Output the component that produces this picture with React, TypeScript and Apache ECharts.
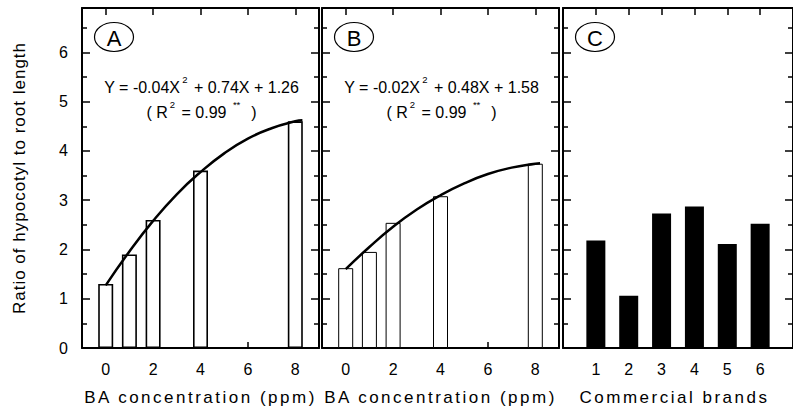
import React, { useEffect, useRef } from "react";
import * as echarts from "echarts";

// ---- data ----
const concentrations = [0, 1, 2, 4, 8];
const ratioA = [1.3, 1.9, 2.6, 3.6, 4.6];
const ratioB = [1.62, 1.95, 2.54, 3.08, 3.74];

const fitXA = [0, 1, 2, 3, 4, 5, 6, 7, 8, 8.3];
const fitYA = [1.27, 1.96, 2.58, 3.12, 3.57, 3.95, 4.25, 4.46, 4.6, 4.62];
const fitXB = [0, 1, 2, 3, 4, 5, 6, 7, 8, 8.2];
const fitYB = [1.6, 2.05, 2.46, 2.81, 3.1, 3.34, 3.53, 3.66, 3.74, 3.75];

const brands = [1, 2, 3, 4, 5, 6];
const ratioC = [2.18, 1.06, 2.73, 2.87, 2.11, 2.52];

const concTicks = [0, 2, 4, 6, 8];
const panelLetters = ["A", "B", "C"];
const eqLine1 = [
  ["Y = -0.04X", "2", " + 0.74X + 1.26"],
  ["Y = -0.02X", "2", " + 0.48X + 1.58"],
];
const eqLine2 = ["( R", "2", " = 0.99 ", "**", "  )"];

const xTitleAB = "BA concentration (ppm)";
const xTitleC = "Commercial brands";
const yTitle = "Ratio of hypocotyl to root length";

const F = "'Liberation Sans', sans-serif";
const F_X = "'Liberation Sans', Arial"; // tracked x titles
const F_Y = "'Liberation Sans', Helvetica"; // y title

const grids = [
  { left: 82, top: 8, width: 237, height: 340 },
  { left: 322, top: 8, width: 237, height: 340 },
  { left: 563, top: 8, width: 237, height: 340 },
];

export default function App() {
  const ref = useRef<HTMLDivElement>(null);
  useEffect(() => {
    if (!ref.current) return;
    const chart = echarts.init(ref.current, null, { renderer: "svg" });
    const black = "#000";
    const axisLine = { show: true, onZero: false, lineStyle: { color: black, width: 2 } };

    const xAxes: any[] = [];
    const yAxes: any[] = [];
    grids.forEach((g, i) => {
      const isC = i === 2;
      const ticks = isC ? brands : concTicks;
      const min = isC ? 0 : -1;
      const max = isC ? 7 : 9;
      xAxes.push({
        type: "value",
        gridIndex: i,
        position: "bottom",
        min,
        max,
        splitNumber: 5,
        axisLine,
        splitLine: { show: false },
        axisTick: { show: true, inside: true, length: 6, customValues: ticks, lineStyle: { color: black, width: 1.5 } },
        axisLabel: { show: true, customValues: ticks, color: black, fontSize: 16, fontFamily: F, margin: 13 },
        name: isC ? xTitleC : xTitleAB,
        nameLocation: "middle",
        nameGap: 41,
        nameTextStyle: { color: black, fontSize: 17, fontFamily: F_X, padding: isC ? [0, 7, 0, 0] : 0 },
      });
      xAxes.push({
        type: "value",
        gridIndex: i,
        position: "top",
        min,
        max,
        splitNumber: 5,
        axisLine,
        splitLine: { show: false },
        axisTick: { show: true, inside: true, length: 7, customValues: ticks, lineStyle: { color: black, width: 1.5 } },
        axisLabel: { show: false },
      });
      const yBase = {
        type: "value",
        gridIndex: i,
        min: 0,
        max: 6.9,
        interval: 1,
        axisLine,
        splitLine: { show: false },
        minorSplitLine: { show: false },
        axisTick: { show: true, inside: true, length: 8, lineStyle: { color: black, width: 1.5 } },
        minorTick: { show: true, splitNumber: 2, length: 5, lineStyle: { color: black, width: 1.5 } },
      };
      yAxes.push({
        ...yBase,
        position: "left",
        axisLabel: {
          show: i === 0,
          showMaxLabel: false,
          color: black,
          fontSize: 16,
          fontFamily: F,
          margin: 14,
          formatter: (v: number) => (Number.isInteger(v) ? String(v) : ""),
        },
        name: i === 0 ? yTitle : "",
        nameLocation: "middle",
        nameGap: 54,
        nameTextStyle: { color: black, fontSize: 17, fontFamily: F_Y },
      });
      yAxes.push({ ...yBase, position: "right", axisLabel: { show: false } });
    });

    const barStyleOpen = (w: number) => ({ color: "#fff", borderColor: black, borderWidth: w });

    const series: any[] = [
      {
        type: "bar",
        xAxisIndex: 0,
        yAxisIndex: 0,
        barWidth: 15,
        data: concentrations.map((c, k) => [c, ratioA[k]]),
        itemStyle: barStyleOpen(1.6),
      },
      {
        type: "line",
        xAxisIndex: 0,
        yAxisIndex: 0,
        smooth: true,
        showSymbol: false,
        symbol: "none",
        z: 5,
        data: fitXA.map((x, k) => [x, fitYA[k]]),
        lineStyle: { color: black, width: 2.5 },
      },
      {
        type: "bar",
        xAxisIndex: 2,
        yAxisIndex: 2,
        barWidth: 15,
        data: concentrations.map((c, k) => [c, ratioB[k]]),
        itemStyle: barStyleOpen(1),
      },
      {
        type: "line",
        xAxisIndex: 2,
        yAxisIndex: 2,
        smooth: true,
        showSymbol: false,
        symbol: "none",
        z: 5,
        data: fitXB.map((x, k) => [x, fitYB[k]]),
        lineStyle: { color: black, width: 2.5 },
      },
      {
        type: "bar",
        xAxisIndex: 4,
        yAxisIndex: 4,
        barWidth: 19,
        data: brands.map((b, k) => [b, ratioC[k]]),
        itemStyle: { color: black },
      },
    ];

    const rich = {
      m: { fontSize: 16, lineHeight: 26, fontFamily: F, fill: black, color: black },
      s: { fontSize: 9.5, lineHeight: 8, fontFamily: F, fill: black, color: black, verticalAlign: "top", padding: [0, 2, 0, 2] },
    };
    const graphic: any[] = [];
    panelLetters.forEach((L, i) => {
      const cx = grids[i].left + 32;
      const cy = 37;
      graphic.push({
        type: "ellipse",
        shape: { cx, cy, rx: 19.5, ry: 14.5 },
        style: { fill: "none", stroke: black, lineWidth: 1.2 },
        z: 10,
      });
      graphic.push({
        type: "text",
        x: cx,
        y: cy + 1,
        z: 10,
        style: {
          text: L,
          fontSize: 22,
          fontFamily: F,
          fill: black,
          align: "center",
          verticalAlign: "middle",
          textAlign: "center",
          textVerticalAlign: "middle",
        },
      });
    });
    eqLine1.forEach((parts, i) => {
      const cx = grids[i].left + grids[i].width / 2 + 1;
      graphic.push({
        type: "text",
        x: cx,
        y: 87.5,
        z: 10,
        style: {
          text: `{m|${parts[0]}}{s|${parts[1]}}{m|${parts[2]}}`,
          rich,
          align: "center",
          verticalAlign: "middle",
          textAlign: "center",
          textVerticalAlign: "middle",
        },
      });
      graphic.push({
        type: "text",
        x: cx,
        y: 112.5,
        z: 10,
        style: {
          text: `{m|${eqLine2[0]}}{s|${eqLine2[1]}}{m|${eqLine2[2]}}{s|${eqLine2[3]}}{m|${eqLine2[4]}}`,
          rich,
          align: "center",
          verticalAlign: "middle",
          textAlign: "center",
          textVerticalAlign: "middle",
        },
      });
    });

    chart.setOption({
      animation: false,
      backgroundColor: "#fff",
      textStyle: { fontFamily: F, color: black },
      grid: grids.map((g) => ({ ...g, containLabel: false })),
      xAxis: xAxes,
      yAxis: yAxes,
      series,
      graphic,
    });
    return () => chart.dispose();
  }, []);

  return (
    <>
      <style>{`
        html, body { margin: 0; padding: 0; background: #fff; overflow: hidden; }
        svg text[style*="Arial"] { letter-spacing: 2.5px; }
        svg text[style*="Helvetica"] { letter-spacing: 1px; }
      `}</style>
      <div ref={ref} style={{ width: 793, height: 412, overflow: "hidden" }} />
    </>
  );
}
